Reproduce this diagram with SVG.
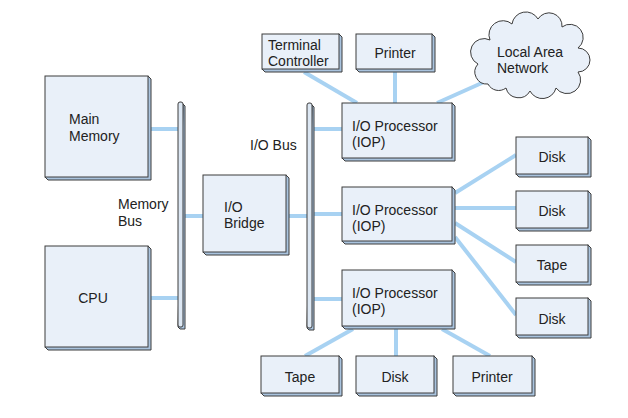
<svg xmlns="http://www.w3.org/2000/svg" width="628" height="418" viewBox="0 0 628 418">
<style>
.face{fill:#e9f0f9;stroke:#3c3c3c;stroke-width:1}
.side{fill:#a9c3de;stroke:#3c3c3c;stroke-width:1}
.bus{fill:#dce7f3;stroke:#3c3c3c;stroke-width:1}
.ln{stroke:#a8d2f2;stroke-width:4;fill:none}
text{font-family:"Liberation Sans",Arial,sans-serif;font-size:14px;fill:#222}
.c{text-anchor:middle}
</style>
<rect width="628" height="418" fill="#fff"/>
<g id="connectors">
<line class="ln" x1="150" y1="129" x2="178" y2="129"/>
<line class="ln" x1="150" y1="298" x2="178" y2="298"/>
<line class="ln" x1="184" y1="216" x2="203" y2="216"/>
<line class="ln" x1="289" y1="216" x2="307" y2="216"/>
<line class="ln" x1="314" y1="129" x2="342" y2="129"/>
<line class="ln" x1="314" y1="214" x2="342" y2="214"/>
<line class="ln" x1="314" y1="299" x2="342" y2="299"/>
<line class="ln" x1="304" y1="72" x2="357" y2="103"/>
<line class="ln" x1="395" y1="72" x2="395" y2="103"/>
<line class="ln" x1="484" y1="82" x2="437" y2="103"/>
<line class="ln" x1="455" y1="193" x2="516" y2="155"/>
<line class="ln" x1="455" y1="208" x2="516" y2="208"/>
<line class="ln" x1="455" y1="223" x2="516" y2="262"/>
<line class="ln" x1="455" y1="237" x2="516" y2="315"/>
<line class="ln" x1="353" y1="329" x2="305" y2="356"/>
<line class="ln" x1="396" y1="329" x2="396" y2="356"/>
<line class="ln" x1="442" y1="329" x2="490" y2="356"/>
</g>
<g id="memory-bus">
<path class="side" d="M183,104 L185,106 L185,329 L180,329 L178,327 Z"/>
<rect class="bus" x="178" y="102" width="5" height="225" rx="2"/>
</g>
<g id="io-bus">
<path class="side" d="M312,105 L314,107 L314,330 L309,330 L307,328 Z"/>
<rect class="bus" x="307" y="103" width="5" height="225" rx="2"/>
</g>
<g id="main-memory">
<path class="side" d="M148,76 L151,79 L151,180 L48,180 L45,177 Z"/>
<rect class="face" x="45" y="76" width="103" height="101"/>
<text x="69" y="124">Main</text>
<text x="69" y="141">Memory</text>
</g>
<g id="cpu">
<path class="side" d="M148,246 L151,249 L151,350 L48,350 L45,347 Z"/>
<rect class="face" x="45" y="246" width="103" height="101"/>
<text x="93" y="303" class="c">CPU</text>
</g>
<text x="118" y="209">Memory</text>
<text x="118" y="226">Bus</text>
<text x="250" y="150">I/O Bus</text>
<g id="io-bridge">
<path class="side" d="M286,175 L289,178 L289,255 L206,255 L203,252 Z"/>
<rect class="face" x="203" y="175" width="83" height="77"/>
<text x="224" y="212">I/O</text>
<text x="224" y="228">Bridge</text>
</g>
<g id="terminal-controller">
<path class="side" d="M339,34 L342,37 L342,72 L265,72 L262,69 Z"/>
<rect class="face" x="262" y="34" width="77" height="35"/>
<text x="268" y="50">Terminal</text>
<text x="268" y="66">Controller</text>
</g>
<g id="printer-top">
<path class="side" d="M432,34 L435,37 L435,72 L359,72 L356,69 Z"/>
<rect class="face" x="356" y="34" width="76" height="35"/>
<text x="395" y="58" class="c">Printer</text>
</g>
<g id="lan">
<path d="M488,84 A12,12 0 0 1 478,64 A13,13 0 0 1 490,40 A14,14 0 0 1 512,24 A14,14 0 0 1 538,19 A13,13 0 0 1 562,27 A12,12 0 0 1 578,48 A12,12 0 0 1 578,72 A13,13 0 0 1 556,88 A14,14 0 0 1 530,91 A13,13 0 0 1 506,88 A12,12 0 0 1 488,84 Z" fill="#e9f0f9" stroke="#3c3c3c" stroke-width="1"/>
<text x="497" y="57">Local Area</text>
<text x="497" y="73">Network</text>
</g>
<g id="iop1">
<path class="side" d="M452,103 L455,106 L455,161 L345,161 L342,158 Z"/>
<rect class="face" x="342" y="103" width="110" height="55"/>
<text x="352" y="131">I/O Processor</text>
<text x="352" y="147">(IOP)</text>
</g>
<g id="iop2">
<path class="side" d="M452,187 L455,190 L455,244 L345,244 L342,241 Z"/>
<rect class="face" x="342" y="187" width="110" height="54"/>
<text x="352" y="215">I/O Processor</text>
<text x="352" y="231">(IOP)</text>
</g>
<g id="iop3">
<path class="side" d="M452,270 L455,273 L455,329 L345,329 L342,326 Z"/>
<rect class="face" x="342" y="270" width="110" height="56"/>
<text x="352" y="298">I/O Processor</text>
<text x="352" y="314">(IOP)</text>
</g>
<g id="disk1">
<path class="side" d="M588,137 L591,140 L591,177 L519,177 L516,174 Z"/>
<rect class="face" x="516" y="137" width="72" height="37"/>
<text x="552" y="162" class="c">Disk</text>
</g>
<g id="disk2">
<path class="side" d="M588,191 L591,194 L591,231 L519,231 L516,228 Z"/>
<rect class="face" x="516" y="191" width="72" height="37"/>
<text x="552" y="216" class="c">Disk</text>
</g>
<g id="tape1">
<path class="side" d="M588,245 L591,248 L591,285 L519,285 L516,282 Z"/>
<rect class="face" x="516" y="245" width="72" height="37"/>
<text x="552" y="270" class="c">Tape</text>
</g>
<g id="disk3">
<path class="side" d="M588,298 L591,301 L591,338 L519,338 L516,335 Z"/>
<rect class="face" x="516" y="298" width="72" height="37"/>
<text x="552" y="324" class="c">Disk</text>
</g>
<g id="tape2">
<path class="side" d="M339,356 L342,359 L342,396 L264,396 L261,393 Z"/>
<rect class="face" x="261" y="356" width="78" height="37"/>
<text x="300" y="382" class="c">Tape</text>
</g>
<g id="disk4">
<path class="side" d="M434,356 L437,359 L437,396 L359,396 L356,393 Z"/>
<rect class="face" x="356" y="356" width="78" height="37"/>
<text x="395" y="382" class="c">Disk</text>
</g>
<g id="printer-bottom">
<path class="side" d="M532,356 L535,359 L535,396 L456,396 L453,393 Z"/>
<rect class="face" x="453" y="356" width="79" height="37"/>
<text x="492" y="382" class="c">Printer</text>
</g>
</svg>
